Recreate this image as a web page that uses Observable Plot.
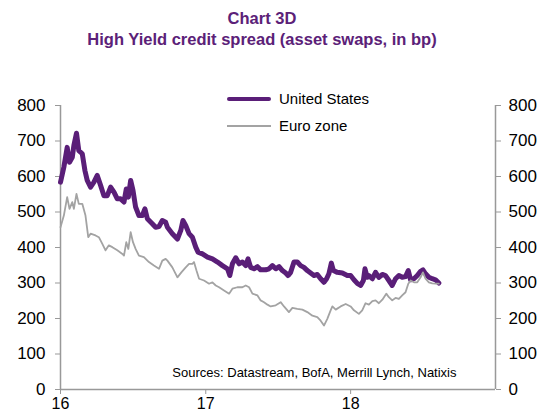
<!DOCTYPE html>
<html>
<head>
<meta charset="utf-8">
<script src="https://cdn.jsdelivr.net/npm/d3@7"></script>
<script src="https://cdn.jsdelivr.net/npm/@observablehq/plot@0.6"></script>
<style>
  html, body { margin: 0; padding: 0; background: #fff; }
  body { width: 541px; height: 416px; position: relative; overflow: hidden; font-family: "Liberation Sans", Arial, sans-serif; }
  #title { position: absolute; left: 0; top: 8px; width: 524px; text-align: center; color: #5B2178; font-weight: bold; font-size: 16.5px; line-height: 21px; }
  #chart { position: absolute; left: 0; top: 56px; }
  .legend { position: absolute; left: 227px; font-size: 15px; color: #000; }
  .legend .row { position: absolute; left: 0; width: 200px; height: 20px; }
  .legend .sw { position: absolute; left: 0; width: 44px; }
  .legend .lb { position: absolute; left: 52px; top: 0; line-height: 20px; white-space: nowrap; }
  g[aria-label="y-axis tick"], g[aria-label="x-axis tick"] { stroke: #999; }
</style>
</head>
<body>
<div id="title">Chart 3D<br>High Yield credit spread (asset swaps, in bp)</div>
<div id="chart"></div>
<div class="legend">
  <div class="row" style="top:89px"><div class="sw" style="top:8px;height:4px;background:#5A1E78;border-radius:2px"></div><div class="lb">United States</div></div>
  <div class="row" style="top:116px"><div class="sw" style="top:9px;height:2px;background:#A3A3A3"></div><div class="lb">Euro zone</div></div>
</div>
<script>
// Series names
const seriesNames = ["United States", "Euro zone"];

// United States: time (fractional year, 2-digit) and spread (bp)
const usT = [16.000,16.023,16.046,16.062,16.081,16.092,16.110,16.126,16.150,16.168,16.184,16.207,16.230,16.253,16.276,16.299,16.322,16.345,16.368,16.391,16.414,16.437,16.453,16.467,16.483,16.499,16.517,16.540,16.563,16.581,16.598,16.632,16.655,16.678,16.701,16.724,16.736,16.770,16.805,16.828,16.843,16.862,16.885,16.908,16.931,16.947,16.977,17.012,17.046,17.081,17.115,17.150,17.166,17.184,17.207,17.230,17.253,17.276,17.292,17.310,17.333,17.357,17.379,17.414,17.437,17.460,17.483,17.506,17.529,17.552,17.568,17.586,17.609,17.632,17.655,17.678,17.701,17.724,17.747,17.770,17.793,17.816,17.834,17.850,17.867,17.881,17.908,17.943,17.977,18.000,18.023,18.046,18.069,18.088,18.099,18.115,18.126,18.150,18.172,18.195,18.219,18.241,18.264,18.287,18.310,18.333,18.356,18.379,18.398,18.414,18.437,18.460,18.483,18.499,18.517,18.540,18.563,18.586,18.609];
const usV = [584,626,682,640,654,687,722,673,664,617,589,570,584,603,575,546,546,570,556,537,537,528,565,542,589,561,514,490,490,509,481,467,457,459,476,471,457,439,424,448,476,462,439,429,401,387,382,373,368,359,349,340,321,354,371,354,359,349,368,344,340,346,337,337,340,349,340,346,335,328,321,330,359,359,349,344,335,328,321,324,312,302,312,326,356,335,330,328,321,321,309,299,293,307,340,316,321,312,330,316,324,321,307,293,312,321,316,318,335,309,312,321,333,337,326,316,312,309,300];

// Euro zone: time (fractional year, 2-digit) and spread (bp)
const euT = [16.000,16.023,16.046,16.062,16.081,16.092,16.110,16.126,16.150,16.172,16.191,16.207,16.241,16.264,16.288,16.310,16.333,16.357,16.391,16.426,16.437,16.453,16.467,16.483,16.499,16.517,16.540,16.574,16.609,16.643,16.678,16.701,16.724,16.736,16.770,16.805,16.832,16.862,16.885,16.908,16.919,16.936,16.954,16.988,17.023,17.046,17.069,17.092,17.126,17.161,17.184,17.218,17.253,17.276,17.299,17.322,17.357,17.379,17.402,17.426,17.448,17.483,17.517,17.540,17.574,17.598,17.632,17.667,17.701,17.736,17.770,17.793,17.816,17.839,17.862,17.874,17.897,17.931,17.966,18.000,18.023,18.057,18.080,18.103,18.126,18.150,18.172,18.195,18.219,18.246,18.264,18.287,18.310,18.333,18.356,18.379,18.398,18.414,18.437,18.460,18.483,18.499,18.517,18.540,18.563,18.586,18.609];
const euV = [457,490,542,509,528,509,551,523,523,490,429,439,434,429,410,392,406,401,392,382,377,415,396,443,415,396,377,373,359,349,340,363,368,363,344,316,330,344,354,354,359,335,312,307,298,302,293,288,279,270,284,288,288,293,288,270,265,251,246,239,234,237,246,234,218,230,227,225,218,208,204,194,180,199,223,234,225,234,241,234,223,213,223,243,239,249,251,243,253,270,260,251,258,255,265,274,298,307,302,302,316,330,312,302,299,298,298];

// Axis ticks
const yTicks = [0,100,200,300,400,500,600,700,800];
const xTickYears = [2016, 2017, 2018];
const xDomainYears = [2016, 2019];
const sourceText = "Sources: Datastream, BofA, Merrill Lynch, Natixis";

function toDate(t) {
  const full = 2000 + t;
  const y = Math.floor(full);
  const a = Date.UTC(y, 0, 1), b = Date.UTC(y + 1, 0, 1);
  return new Date(a + (full - y) * (b - a));
}
const yearDate = y => new Date(Date.UTC(y, 0, 1));

const us = usT.map((t, i) => ({date: toDate(t), value: usV[i], series: seriesNames[0]}));
const eu = euT.map((t, i) => ({date: toDate(t), value: euV[i], series: seriesNames[1]}));

const xDom = xDomainYears.map(yearDate);

const chart = Plot.plot({
  width: 541,
  height: 360,
  marginTop: 49,
  marginBottom: 27,
  marginLeft: 60,
  marginRight: 46,
  style: {fontFamily: '"Liberation Sans", Arial, sans-serif', fontSize: "17px", color: "#000", background: "#fff"},
  x: {type: "utc", domain: xDom, label: null},
  y: {domain: [0, 800], label: null},
  marks: [
    Plot.ruleX(xDom, {y1: 0, y2: 800, stroke: "#999", strokeWidth: 1.5}),
    Plot.ruleY([0], {stroke: "#999", strokeWidth: 1.5}),
    Plot.axisY({anchor: "left", label: null, ticks: yTicks, tickSize: 5, tickPadding: 10, color: "#000", fontSize: 17}),
    Plot.axisY({anchor: "right", label: null, ticks: yTicks, tickSize: 5, tickPadding: 8, color: "#000", fontSize: 17}),
    Plot.axisX({label: null, ticks: xTickYears.map(yearDate), tickFormat: d3.utcFormat("%y"), tickSize: 5, tickPadding: 3, color: "#000", fontSize: 16}),
    Plot.line(us, {x: "date", y: "value", stroke: "#5A1E78", strokeWidth: 5, strokeLinejoin: "round", strokeLinecap: "round"}),
    Plot.line(eu, {x: "date", y: "value", stroke: "#A3A3A3", strokeWidth: 1.8, strokeLinejoin: "round"}),
    Plot.text([sourceText], {frameAnchor: "bottom-right", textAnchor: "end", lineAnchor: "middle", dx: -39, dy: -17, fontSize: 13, fill: "#000"})
  ]
});
document.getElementById("chart").appendChild(chart);
</script>
</body>
</html>
